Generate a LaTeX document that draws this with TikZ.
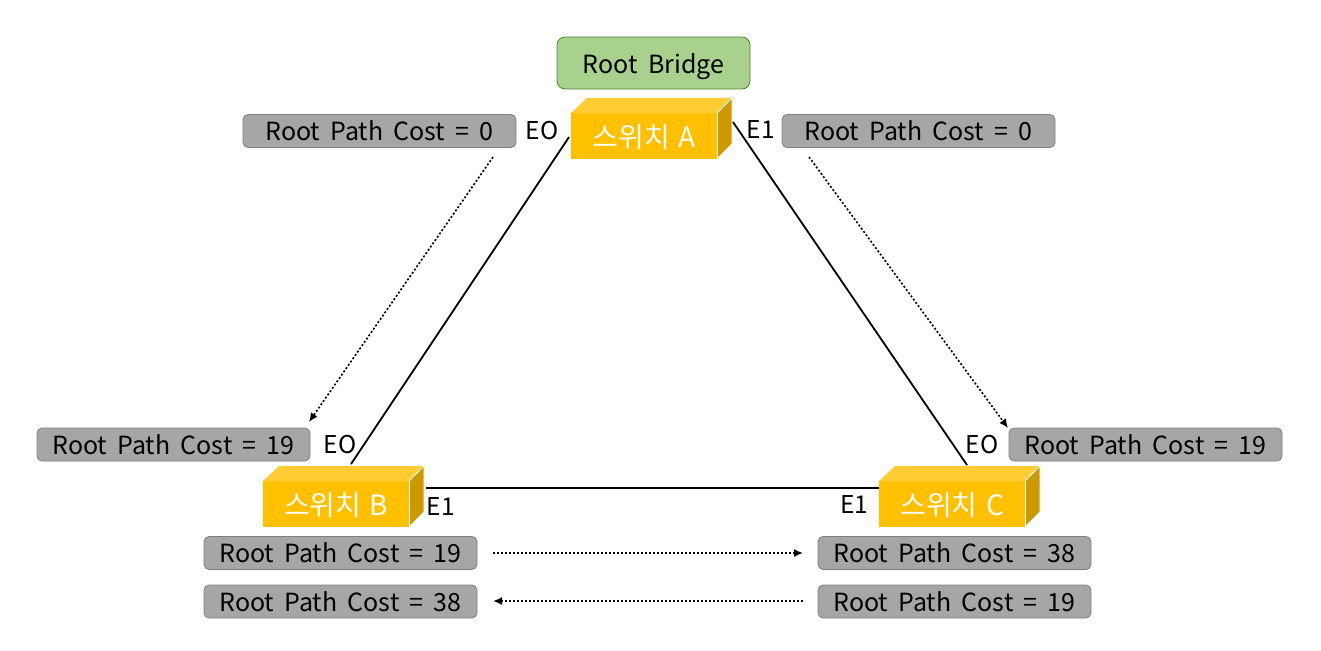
\documentclass[tikz,border=0pt]{standalone}
\usepackage{fontspec}
\setmainfont{Noto Sans CJK KR}[Scale=1.0]
\usetikzlibrary{arrows.meta}
\definecolor{swfront}{HTML}{FFC000}
\definecolor{swtop}{HTML}{FFCD33}
\definecolor{swside}{HTML}{CC9A00}
\definecolor{costfill}{HTML}{A6A6A6}
\definecolor{costline}{HTML}{7F7F7F}
\definecolor{rootfill}{HTML}{A9D18E}
\definecolor{rootline}{HTML}{548235}
\newcommand{\pxfont}[1]{\fontsize{#1}{#1}\selectfont}
\newcommand{\wg}{\hspace{0.41em}}
\tikzset{
  x=1pt,y=-1pt,
  cost/.style={draw=costline,fill=costfill,rounded corners=5pt,line width=0.8pt,minimum width=273pt,minimum height=33pt,inner sep=0pt,font=\pxfont{25},text=black,text depth=0pt},
  rootbox/.style={draw=rootline,fill=rootfill,rounded corners=8pt,line width=0.8pt,minimum width=193pt,minimum height=52pt,inner sep=0pt,font=\pxfont{25},text depth=0pt},
  swbox/.style={fill=swfront,minimum width=146pt,minimum height=46pt,inner sep=0pt,text=white,font=\pxfont{28},text depth=0pt},
  portlabel/.style={inner sep=0pt,font=\pxfont{24.5},text=black},
  link/.style={line width=1.8pt,black},
  flow/.style={line width=1.6pt,black,dash pattern=on 2pt off 2pt,-{Latex[length=9pt,width=8pt]}},
  swsideface/.style={fill=swside,draw=white,line width=0.9pt,line join=round}
}
\newcommand{\switchbox}[4]{% name, left x, top y, label
  \fill[swtop] (#2,#3) -- ++(16,-15) -- ++(146,0) -- (#2+146,#3) -- cycle;
  \filldraw[swsideface] (#2+146,#3) -- ++(15,-15) -- ++(0,46) -- ++(-15,15) -- cycle;
  \node[swbox,anchor=north west] (#1) at (#2,#3) {#4};
  \draw[white,line width=0.9pt] (#1.north east) -- (#1.south east);
}
\begin{document}
\begin{tikzpicture}
\useasboundingbox (0,0) rectangle (1321,650);
\node[rootbox] (root) at (653.5,63) {\raisebox{-1.5pt}{Root\wg Bridge}};
\switchbox{swa}{571}{113}{스위치\hspace{0.08em} A}
\switchbox{swb}{263}{481}{스위치\hspace{0.08em} B}
\switchbox{swc}{879}{481}{스위치\hspace{0.08em} C}

\node[cost] (ctl) at (379.5,131) {Root\wg Path\wg Cost\wg =\wg 0};
\node[cost] (ctr) at (918.5,131) {Root\wg Path\wg Cost\wg =\wg 0};
\node[cost] (cl) at (173.5,444.5) {Root\wg Path\wg Cost\wg =\wg 19};
\node[cost] (cr) at (1145.5,444.5) {Root\wg Path\wg Cost\wg =\wg 19};
\node[cost] (cb1) at (340.5,553) {Root\wg Path\wg Cost\wg =\wg 19};
\node[cost] (cb2) at (340.5,601.5) {Root\wg Path\wg Cost\wg =\wg 38};
\node[cost] (cc1) at (954.5,553) {Root\wg Path\wg Cost\wg =\wg 38};
\node[cost] (cc2) at (954.5,601.5) {Root\wg Path\wg Cost\wg =\wg 19};

\node[portlabel] (pa0) at (542,131) {EO};
\node[portlabel] (pa1) at (761,130) {E1};
\node[portlabel] (pb0) at (340,445) {EO};
\node[portlabel] (pb1) at (441,507) {E1};
\node[portlabel] (pc1) at (854,505) {E1};
\node[portlabel] (pc0) at (982,445) {EO};

\coordinate (aw) at (569,137);
\coordinate (bn) at (351,464);
\coordinate (ae) at (733,122);
\coordinate (cn) at (967,465);
\coordinate (be) at (426,488);
\coordinate (cw) at (879,488);
\draw[link] (aw) -- (bn);
\draw[link] (ae) -- (cn);
\draw[link] (be) -- (cw);

\coordinate (f1s) at (493,157);
\coordinate (f1e) at (309,422);
\coordinate (f2s) at (809,157);
\coordinate (f2e) at (1008,428);
\coordinate (f3s) at (493,553);
\coordinate (f3e) at (803,553);
\coordinate (f4s) at (803,601);
\coordinate (f4e) at (493,601);
\draw[flow] (f1s) -- (f1e);
\draw[flow] (f2s) -- (f2e);
\draw[flow] (f3s) -- (f3e);
\draw[flow] (f4s) -- (f4e);
\end{tikzpicture}
\end{document}
